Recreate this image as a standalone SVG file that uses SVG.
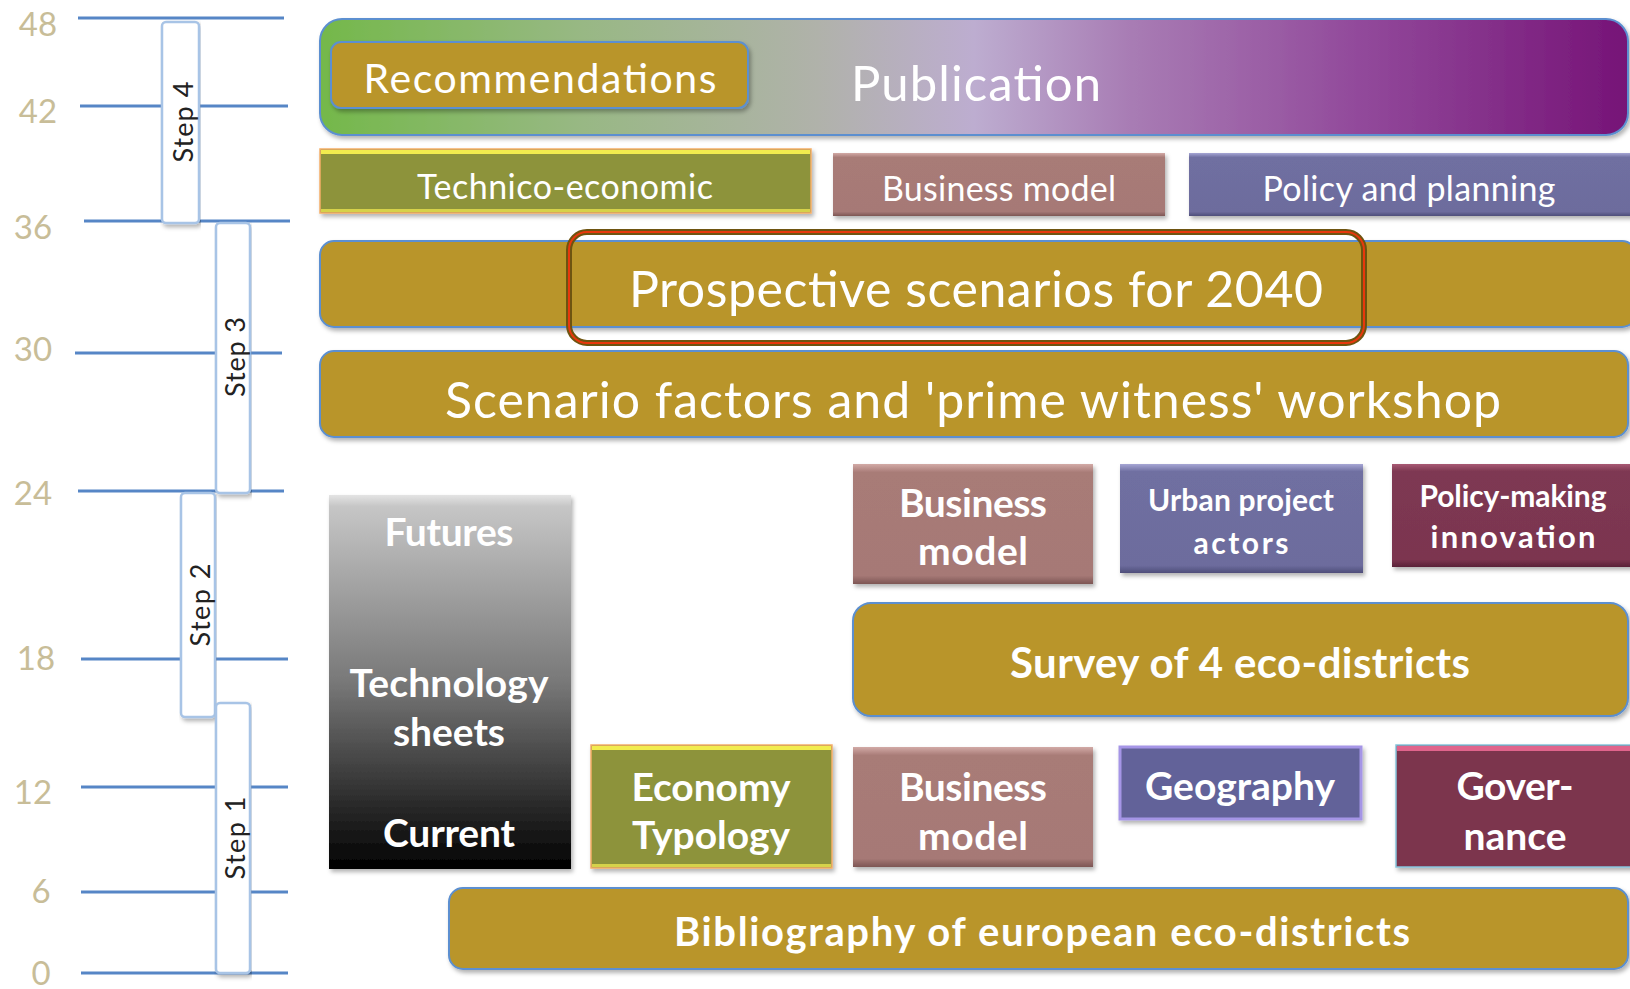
<svg xmlns="http://www.w3.org/2000/svg" width="1630" height="989" viewBox="0 0 1630 989">
<defs>
<style>
.ax{stroke:#5686c6;stroke-width:3;fill:none}
.num{font-family:Lato,"Liberation Sans",sans-serif;font-size:33px;fill:#c8bd98;text-anchor:middle}
.step{fill:#fff;stroke:#a8c4e6;stroke-width:2.5}
.stxt{font-family:Lato,"Liberation Sans",sans-serif;font-size:27px;fill:#222;text-anchor:middle;dominant-baseline:central}
.gold{fill:#b9952a;stroke:#5b8fd0;stroke-width:2}
.t{font-family:Lato,"Open Sans","Liberation Sans",sans-serif;fill:#fff;text-anchor:middle}
.b{font-weight:bold}
.olive{fill:#8d933b;stroke:#f5ae68;stroke-width:1.5}
</style>
<filter id="sh" x="-5%" y="-10%" width="110%" height="130%">
<feDropShadow dx="2" dy="3" stdDeviation="2" flood-color="#000" flood-opacity="0.3"/>
</filter>
<linearGradient id="gPub" x1="0" y1="0" x2="1" y2="0">
<stop offset="0" stop-color="#74b84a"/>
<stop offset="0.2" stop-color="#98b884"/>
<stop offset="0.38" stop-color="#b0b2aa"/>
<stop offset="0.5" stop-color="#bdadd0"/>
<stop offset="0.62" stop-color="#a87cb4"/>
<stop offset="0.8" stop-color="#91489a"/>
<stop offset="1" stop-color="#761477"/>
</linearGradient>
<linearGradient id="gRose" x1="0" y1="0" x2="0" y2="1">
<stop offset="0" stop-color="#d2aaa6"/>
<stop offset="0.07" stop-color="#a87b77"/>
<stop offset="0.93" stop-color="#a67976"/>
<stop offset="1" stop-color="#7d5654"/>
</linearGradient>
<linearGradient id="gSlate" x1="0" y1="0" x2="0" y2="1">
<stop offset="0" stop-color="#a6a6d4"/>
<stop offset="0.07" stop-color="#6f6fa1"/>
<stop offset="0.93" stop-color="#6d6c9d"/>
<stop offset="1" stop-color="#4f4e7a"/>
</linearGradient>
<linearGradient id="gWine" x1="0" y1="0" x2="0" y2="1">
<stop offset="0" stop-color="#a85a74"/>
<stop offset="0.07" stop-color="#7e3852"/>
<stop offset="0.93" stop-color="#7b3550"/>
<stop offset="1" stop-color="#5a2238"/>
</linearGradient>
<linearGradient id="gGray" x1="0" y1="0" x2="0" y2="1">
<stop offset="0" stop-color="#e4e4e4"/>
<stop offset="0.03" stop-color="#c6c6c6"/>
<stop offset="0.5" stop-color="#787878"/>
<stop offset="0.97" stop-color="#080808"/>
<stop offset="1" stop-color="#000"/>
</linearGradient>
</defs>
<rect width="1630" height="989" fill="#fff"/>

<g id="axis">
<line class="ax" x1="78" y1="18" x2="284" y2="18"/>
<line class="ax" x1="80" y1="106" x2="288" y2="106"/>
<line class="ax" x1="84" y1="221" x2="290" y2="221"/>
<line class="ax" x1="75" y1="353" x2="282" y2="353"/>
<line class="ax" x1="78" y1="491" x2="284" y2="491"/>
<line class="ax" x1="81" y1="659" x2="288" y2="659"/>
<line class="ax" x1="81" y1="787" x2="288" y2="787"/>
<line class="ax" x1="81" y1="892" x2="288" y2="892"/>
<line class="ax" x1="81" y1="973" x2="288" y2="973"/>
<text class="num" x="38" y="36">48</text>
<text class="num" x="38" y="123">42</text>
<text class="num" x="33" y="239">36</text>
<text class="num" x="33" y="361">30</text>
<text class="num" x="33" y="505">24</text>
<text class="num" x="36" y="670">18</text>
<text class="num" x="33" y="804">12</text>
<text class="num" x="41" y="903">6</text>
<text class="num" x="41" y="985">0</text>
</g>

<g id="step4"><rect class="step" x="162" y="22" width="37" height="201" rx="4" filter="url(#sh)"/><text class="stxt" transform="translate(182,122) rotate(-90)" textLength="81">Step 4</text></g>
<g id="step3"><rect class="step" x="216" y="223" width="34" height="270" rx="4" filter="url(#sh)"/><text class="stxt" transform="translate(234,357) rotate(-90)" textLength="80">Step 3</text></g>
<g id="step2"><rect class="step" x="181" y="493" width="34" height="224" rx="4" filter="url(#sh)"/><text class="stxt" transform="translate(199,605) rotate(-90)" textLength="83">Step 2</text></g>
<g id="step1"><rect class="step" x="216" y="703" width="34" height="270" rx="4" filter="url(#sh)"/><text class="stxt" transform="translate(234,838) rotate(-90)" textLength="83">Step 1</text></g>

<g id="publication">
<rect x="320" y="19" width="1308" height="116" rx="22" fill="url(#gPub)" stroke="#5b8fd0" stroke-width="2" filter="url(#sh)"/>
<text class="t" x="976" y="101" font-size="49" textLength="250">Publication</text>
</g>
<g id="recommendations">
<rect class="gold" x="331" y="42" width="417" height="66" rx="10" filter="url(#sh)"/>
<text class="t" x="540" y="93" font-size="41" textLength="353">Recommendations</text>
</g>

<g id="technico">
<rect class="olive" x="320" y="149" width="491" height="64" filter="url(#sh)"/>
<rect x="321" y="150" width="489" height="4" fill="#f2ec4e"/>
<rect x="321" y="209" width="489" height="3" fill="#d6d24a"/>
<text class="t" x="565" y="199" font-size="34" textLength="296">Technico-economic</text>
</g>
<g id="business-top">
<rect x="833" y="153" width="332" height="63" fill="url(#gRose)" filter="url(#sh)"/>
<text class="t" x="999" y="201" font-size="34" textLength="234">Business model</text>
</g>
<g id="policy-planning">
<rect x="1189" y="153" width="445" height="63" fill="url(#gSlate)" filter="url(#sh)"/>
<text class="t" x="1409" y="201" font-size="34" textLength="293">Policy and planning</text>
</g>

<g id="prospective">
<rect class="gold" x="320" y="241" width="1316" height="86" rx="14" filter="url(#sh)"/>
<rect x="569" y="232" width="795" height="111" rx="18" fill="none" stroke="#6e5410" stroke-width="6"/>
<rect x="569" y="232" width="795" height="111" rx="18" fill="none" stroke="#e8380c" stroke-width="2"/>
<text class="t" x="976" y="307" font-size="50" textLength="694">Prospective scenarios for 2040</text>
</g>
<g id="scenario-factors">
<rect class="gold" x="320" y="351" width="1308" height="86" rx="14" filter="url(#sh)"/>
<text class="t" x="973" y="418" font-size="50" textLength="1056">Scenario factors and 'prime witness' workshop</text>
</g>

<g id="technology-sheets">
<rect x="329" y="495" width="242" height="374" fill="url(#gGray)" filter="url(#sh)"/>
<text class="t b" x="449" y="546" font-size="39" textLength="129">Futures</text>
<text class="t b" x="449" y="697" font-size="39" textLength="199">Technology</text>
<text class="t b" x="449" y="746" font-size="39" textLength="112">sheets</text>
<text class="t b" x="449" y="847" font-size="39" textLength="132">Current</text>
</g>

<g id="business-mid">
<rect x="853" y="464" width="240" height="120" fill="url(#gRose)" filter="url(#sh)"/>
<text class="t b" x="973" y="517" font-size="39" textLength="148">Business</text>
<text class="t b" x="973" y="565" font-size="39" textLength="110">model</text>
</g>
<g id="urban-actors">
<rect x="1120" y="464" width="243" height="109" fill="url(#gSlate)" filter="url(#sh)"/>
<text class="t b" x="1241" y="511" font-size="30" textLength="186">Urban project</text>
<text class="t b" x="1241" y="554" font-size="30" textLength="95">actors</text>
</g>
<g id="policy-innovation">
<rect x="1392" y="464" width="242" height="103" fill="url(#gWine)" filter="url(#sh)"/>
<text class="t b" x="1513" y="507" font-size="30" textLength="187">Policy-making</text>
<text class="t b" x="1513" y="548" font-size="31" textLength="165">innovation</text>
</g>

<g id="survey">
<rect class="gold" x="853" y="603" width="775" height="113" rx="18" filter="url(#sh)"/>
<text class="t b" x="1240" y="678" font-size="42" textLength="460">Survey of 4 eco-districts</text>
</g>

<g id="economy-typology">
<rect class="olive" x="591" y="745" width="241" height="123" filter="url(#sh)"/>
<rect x="592" y="746" width="239" height="4" fill="#f2ec4e"/>
<rect x="592" y="864" width="239" height="3" fill="#d6d24a"/>
<text class="t b" x="711" y="801" font-size="39" textLength="159">Economy</text>
<text class="t b" x="711" y="849" font-size="39" textLength="158">Typology</text>
</g>
<g id="business-bottom">
<rect x="853" y="747" width="240" height="120" fill="url(#gRose)" filter="url(#sh)"/>
<text class="t b" x="973" y="801" font-size="39" textLength="148">Business</text>
<text class="t b" x="973" y="850" font-size="39" textLength="110">model</text>
</g>
<g id="geography">
<rect x="1120" y="747" width="241" height="72" fill="#626299" stroke="#a595e6" stroke-width="3" filter="url(#sh)"/>
<text class="t b" x="1240" y="800" font-size="39" textLength="190">Geography</text>
</g>
<g id="governance">
<rect x="1396" y="745" width="238" height="122" fill="#7b344e" stroke="#86c4dc" stroke-width="1.5" filter="url(#sh)"/>
<rect x="1397" y="746" width="236" height="5" fill="#e0648c"/>
<text class="t b" x="1515" y="800" font-size="39" textLength="117">Gover-</text>
<text class="t b" x="1515" y="850" font-size="39" textLength="103">nance</text>
</g>

<g id="bibliography">
<rect class="gold" x="449" y="888" width="1179" height="81" rx="14" filter="url(#sh)"/>
<text class="t b" x="1042" y="946" font-size="40" textLength="736">Bibliography of european eco-districts</text>
</g>
</svg>
